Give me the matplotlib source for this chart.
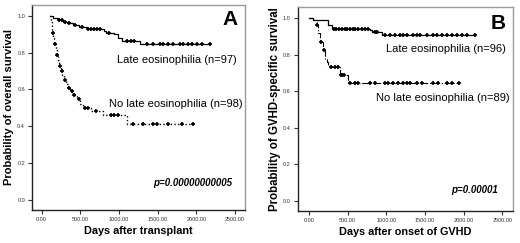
import numpy as np
import matplotlib
matplotlib.use("Agg")
import matplotlib.pyplot as plt

plt.rcParams['font.family'] = ['Liberation Sans', 'DejaVu Sans']

# ---------------- Panel A data (days after transplant) ----------------
a_late_t = [107, 150, 215, 280, 330, 400, 480, 580, 800, 830, 930, 990, 1040, 1270, 2180]
a_late_s = [1.0, 0.99, 0.98, 0.97, 0.96, 0.95, 0.94, 0.93, 0.92, 0.91, 0.90, 0.88, 0.865, 0.845, 0.845]
a_late_cens = [230, 260, 300, 360, 430, 520, 600, 640, 680, 720, 760, 870, 1100, 1150, 1200,
               1358, 1445, 1530, 1574, 1638, 1703, 1789, 1832, 1897, 1940, 2005, 2070, 2177]

a_no_t = [107, 120, 130, 140, 150, 165, 180, 195, 210, 225, 245, 265, 290, 310, 340, 370, 400,
          460, 500, 530, 640, 790, 1100, 1960]
a_no_s = [1.0, 0.97, 0.94, 0.91, 0.88, 0.85, 0.82, 0.79, 0.76, 0.73, 0.70, 0.68, 0.65, 0.63,
          0.61, 0.59, 0.57, 0.55, 0.52, 0.50, 0.48, 0.46, 0.41, 0.41]
a_no_cens = [145, 175, 200, 235, 260, 300, 350, 390, 420, 480, 560, 600, 700, 900, 930, 990,
             1185, 1315, 1445, 1488, 1638, 1811, 1953]

# ---------------- Panel B data (days after onset of GVHD) ----------------
b_late_t = [4, 56, 250, 293, 789, 811, 939, 2147]
b_late_s = [1.0, 0.99, 0.965, 0.94, 0.935, 0.925, 0.91, 0.91]
b_late_cens = [320, 355, 390, 425, 460, 495, 530, 565, 600, 640, 680, 720, 760, 850, 880,
               983, 1048, 1112, 1177, 1220, 1263, 1349, 1393, 1436, 1522, 1608, 1651, 1716,
               1781, 1846, 1910, 1975, 2039, 2147]

b_no_t = [4, 56, 99, 121, 142, 185, 207, 228, 250, 272, 401, 509, 1944]
b_no_s = [1.0, 0.99, 0.963, 0.92, 0.872, 0.827, 0.78, 0.763, 0.745, 0.735, 0.69, 0.645, 0.645]
b_no_cens = [110, 160, 200, 290, 330, 370, 410, 430, 450,
             530, 595, 638, 789, 854, 983, 1026, 1091, 1155, 1220, 1263, 1306, 1393, 1457,
             1608, 1673, 1781, 1846, 1944]

xticks = [0, 500, 1000, 1500, 2000, 2500]
xticklabels = ["0.00", "500.00", "1000.00", "1500.00", "2000.00", "2500.00"]
yticks = [0.0, 0.2, 0.4, 0.6, 0.8, 1.0]
yticklabels = ["0.0", "0.2", "0.4", "0.6", "0.8", "1.0"]

W, H = 520, 243
fig = plt.figure(figsize=(W / 100, H / 100), dpi=100)


def px_axes(l, t, r, b):
    return fig.add_axes([l / W, 1 - b / H, (r - l) / W, (b - t) / H])


def surv_at(times, surv, c):
    idx = np.searchsorted(np.asarray(times), np.asarray(c), side='right') - 1
    idx = np.clip(idx, 0, len(surv) - 1)
    return np.asarray(surv)[idx]


def style(ax, xlim, ylim):
    ax.set_xlim(*xlim)
    ax.set_ylim(*ylim)
    ax.set_xticks(xticks)
    ax.set_xticklabels(xticklabels)
    ax.set_yticks(yticks)
    ax.set_yticklabels(yticklabels)
    ax.tick_params(labelsize=4, length=3, width=0.8, pad=2, colors='#333333')
    for s in ['top', 'right']:
        ax.spines[s].set_color('#9a9a9a')
        ax.spines[s].set_linewidth(1.0)
    for s in ['left', 'bottom']:
        ax.spines[s].set_color('#222222')
        ax.spines[s].set_linewidth(1.0)


def draw_curve(ax, t, s, cens, ls, lw):
    ax.step(t, s, where='post', color='black', ls=ls, lw=lw)
    ax.plot(cens, surv_at(t, s, cens), ls='none', marker='+', ms=3.5, mew=1.2, color='black')


# Panel A
axA = px_axes(32, 5, 245, 210)
style(axA, (-125, 2630), (-0.057, 1.06))
draw_curve(axA, a_late_t, a_late_s, a_late_cens, '-', 0.9)
draw_curve(axA, a_no_t, a_no_s, a_no_cens, ':', 1.0)
axA.set_ylabel("Probability of overall survival", fontsize=8.0, fontweight='bold', labelpad=2)
axA.set_xlabel("Days after transplant", fontsize=7.8, fontweight='bold', labelpad=3)
axA.text(0.965, 0.93, "A", transform=axA.transAxes, ha='right', va='center',
         fontsize=15, fontweight='bold')
axA.text(0.962, 0.73, "Late eosinophilia (n=97)", transform=axA.transAxes, ha='right',
         va='center', fontsize=8.0)
axA.text(0.99, 0.515, "No late eosinophilia (n=98)", transform=axA.transAxes, ha='right',
         va='center', fontsize=8.0)
axA.text(0.94, 0.13, "p=0.00000000005", transform=axA.transAxes, ha='right', va='center',
         fontsize=7.0, style='italic', fontweight='bold')

# Panel B
axB = px_axes(297.7, 7, 513, 210.7)
style(axB, (-146, 2638), (-0.053, 1.062))
draw_curve(axB, b_late_t, b_late_s, b_late_cens, '-', 0.9)
draw_curve(axB, b_no_t, b_no_s, b_no_cens, '-.', 0.8)
axB.set_ylabel("Probability of GVHD-specific survival", fontsize=8.3, fontweight='bold',
               labelpad=1.5)
axB.set_xlabel("Days after onset of GVHD", fontsize=7.8, fontweight='bold', labelpad=3)
axB.text(0.965, 0.92, "B", transform=axB.transAxes, ha='right', va='center',
         fontsize=15, fontweight='bold')
axB.text(0.965, 0.795, "Late eosinophilia (n=96)", transform=axB.transAxes, ha='right',
         va='center', fontsize=8.0)
axB.text(0.985, 0.555, "No late eosinophilia (n=89)", transform=axB.transAxes, ha='right',
         va='center', fontsize=8.0)
axB.text(0.93, 0.10, "p=0.00001", transform=axB.transAxes, ha='right', va='center',
         fontsize=7.0, style='italic', fontweight='bold')

fig.savefig("out.png", dpi=100)
